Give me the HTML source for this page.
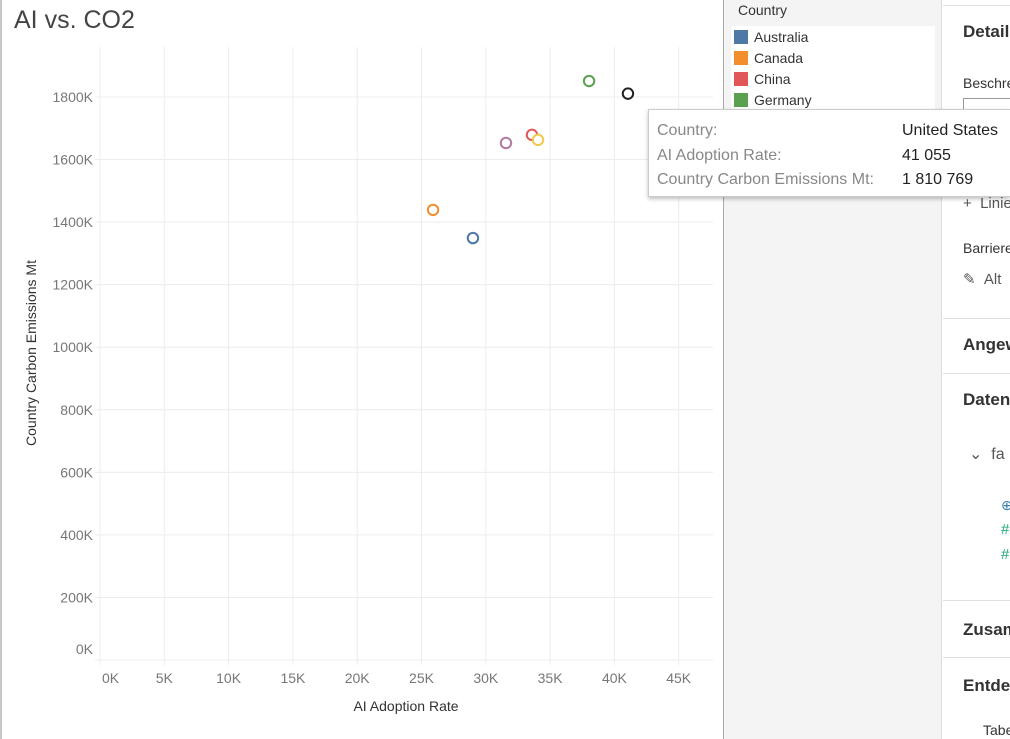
<!DOCTYPE html>
<html><head><meta charset="utf-8"><style>
body{margin:0;width:1010px;height:739px;overflow:hidden;background:#fff;font-family:"Liberation Sans",sans-serif;position:relative}
.abs{position:absolute}
</style></head><body>
<div class="abs" style="left:0;top:0;width:722px;height:739px;background:#fff;border-left:2px solid #c8c8c8;box-sizing:border-box"></div>
<div class="abs" style="left:14px;top:6px;font-size:25px;color:#444">AI vs. CO2</div>
<svg class="abs" style="left:0;top:0" width="722" height="739" id="chart"></svg>
<div class="abs" style="left:723px;top:0;width:219px;height:739px;background:#f4f4f4;border-left:1px solid #aaa;border-right:1px solid #ddd;box-sizing:border-box"></div>
<div class="abs" style="left:731px;top:0;width:204px;height:112px;background:#fff">
 <div style="background:#f4f4f4;height:26px;line-height:20px;padding-left:7px;font-size:14px;color:#333">Country</div>
 <div id="legitems"></div>
</div>
<div class="abs" style="left:943px;top:0;width:67px;height:739px;background:#fff;color:#333;font-size:15px;overflow:hidden">
 <div style="position:absolute;top:5px;left:0;width:67px;border-top:1px solid #e0e0e0"></div>
 <div style="position:absolute;top:22px;left:20px;font-weight:bold;font-size:17px;white-space:nowrap">Details</div>
 <div style="position:absolute;top:75px;left:20px;font-size:14px;white-space:nowrap">Beschreibung</div>
 <div style="position:absolute;top:98px;left:20px;width:60px;height:14px;border:1px solid #999"></div>
 <div style="position:absolute;top:195px;left:20px;white-space:nowrap;color:#555">+ &nbsp;Linie</div>
 <div style="position:absolute;top:240px;left:20px;font-size:14px;white-space:nowrap">Barrierefreiheit</div>
 <div style="position:absolute;top:270px;left:20px;white-space:nowrap;color:#555">✎ &nbsp;Alt</div>
 <div style="position:absolute;top:318px;left:0;width:67px;border-top:1px solid #e0e0e0"></div>
 <div style="position:absolute;top:335px;left:20px;font-weight:bold;font-size:17px;white-space:nowrap">Angewendet</div>
 <div style="position:absolute;top:373px;left:0;width:67px;border-top:1px solid #e0e0e0"></div>
 <div style="position:absolute;top:390px;left:20px;font-weight:bold;font-size:17px;white-space:nowrap">Daten</div>
 <div style="position:absolute;top:444px;left:26px;white-space:nowrap;color:#555;font-size:16px">⌄ &nbsp;fa</div>
 <div style="position:absolute;top:497px;left:58px;color:#3a7ca5;font-size:14px">⊕</div>
 <div style="position:absolute;top:521px;left:58px;color:#1aa67a;font-size:15px">#</div>
 <div style="position:absolute;top:546px;left:58px;color:#1aa67a;font-size:15px">#</div>
 <div style="position:absolute;top:600px;left:0;width:67px;border-top:1px solid #e0e0e0"></div>
 <div style="position:absolute;top:620px;left:20px;font-weight:bold;font-size:17px;white-space:nowrap">Zusammenfassung</div>
 <div style="position:absolute;top:657px;left:0;width:67px;border-top:1px solid #e0e0e0"></div>
 <div style="position:absolute;top:676px;left:20px;font-weight:bold;font-size:17px;white-space:nowrap">Entdecken</div>
 <div style="position:absolute;top:722px;left:40px;font-size:14px;white-space:nowrap">Tabelle</div>
</div>
<div class="abs" style="left:648px;top:109px;width:362px;height:88px;background:#fff;border:1px solid #ccc;border-right:none;box-sizing:border-box;box-shadow:0 2px 4px rgba(0,0,0,0.25);font-size:16px;overflow:hidden;white-space:nowrap">
 <div style="position:absolute;left:8px;top:12px;color:#888">Country:</div>
 <div style="position:absolute;left:253px;top:12px;color:#222">United States</div>
 <div style="position:absolute;left:8px;top:37px;color:#888">AI Adoption Rate:</div>
 <div style="position:absolute;left:253px;top:37px;color:#222">41 055</div>
 <div style="position:absolute;left:8px;top:61px;color:#888">Country Carbon Emissions Mt:</div>
 <div style="position:absolute;left:253px;top:61px;color:#222">1 810 769</div>
</div>
<script>
const countries=["Australia","Canada","Japan","China","India","Germany","United States"];
const aiRate=[29000,25900,31570,33590,34060,38030,41055];
const emissions=[1349000,1439000,1653000,1679000,1663000,1851000,1810769];
const colors=["#4e79a7","#f28e2b","#b07aa1","#e15759","#edc948","#59a14f","#222222"];
const xTicks=[0,5000,10000,15000,20000,25000,30000,35000,40000,45000];
const yTicks=[0,200000,400000,600000,800000,1000000,1200000,1400000,1600000,1800000];
const legendNames=["Australia","Canada","China","Germany"];
const legendColors=["#4e79a7","#f28e2b","#e15759","#59a14f"];
const NS="http://www.w3.org/2000/svg";
const svg=document.getElementById('chart');
const L=100,R=713,T=47,B=660;
const xs=v=>L+v*64.3/5000;
const ys=v=>B-v*563/1800000;
function el(t,a){const e=document.createElementNS(NS,t);for(const k in a)e.setAttribute(k,a[k]);svg.appendChild(e);return e;}
xTicks.forEach((v,i)=>{
 const g=el('line',{x1:xs(v),x2:xs(v),y1:T,y2:B+5,stroke:'#ececec','stroke-width':1});
 
 
 const t=el('text',{x:i==0?xs(v)+2:xs(v),y:683,'text-anchor':i==0?'start':'middle','font-size':14,fill:'#777','font-family':'Liberation Sans, sans-serif'});
 t.textContent=(v/1000)+'K';
 
 
});
yTicks.forEach((v,i)=>{
 const g=el('line',{x1:L-5,x2:R,y1:ys(v),y2:ys(v),stroke:'#ececec','stroke-width':1});
 
 
 const t=el('text',{x:93,y:i==0?ys(v)-6:ys(v)+5,'text-anchor':'end','font-size':14,fill:'#777','font-family':'Liberation Sans, sans-serif'});
 t.textContent=(v/1000)+'K';
 
 
});
const xt=el('text',{x:406,y:711,'text-anchor':'middle','font-size':14,fill:'#333','font-family':'Liberation Sans, sans-serif'});
xt.textContent='AI Adoption Rate';


const yt=el('text',{x:0,y:0,'text-anchor':'middle','font-size':14,fill:'#333','font-family':'Liberation Sans, sans-serif',transform:'translate(36,353) rotate(-90)'});
yt.textContent='Country Carbon Emissions Mt';


countries.forEach((c,i)=>{
 const p=el('circle',{cx:xs(aiRate[i]),cy:ys(emissions[i]),r:5.2,fill:'#fff',stroke:colors[i],'stroke-width':2});
 
 
});
const li=document.getElementById('legitems');
legendNames.forEach((n,i)=>{
 const d=document.createElement('div');
 
 
 d.style.cssText='height:21px;display:flex;align-items:center;padding-left:3px;font-size:14px;color:#333';
 d.innerHTML='<span style="display:inline-block;width:14px;height:14px;background:'+legendColors[i]+';margin-right:6px"></span>'+n;
 li.appendChild(d);
});
</script>
</body></html>
